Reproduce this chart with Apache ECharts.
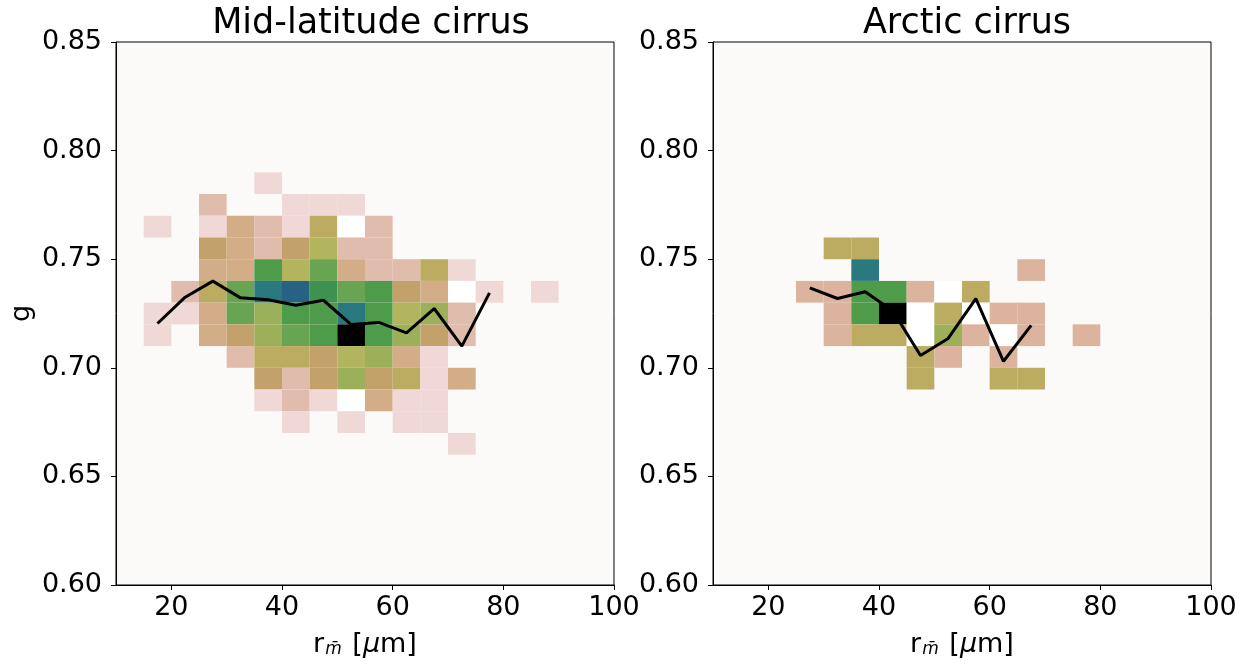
<!DOCTYPE html>
<html>
<head>
<meta charset="utf-8">
<script src="https://cdn.jsdelivr.net/npm/echarts@6/dist/echarts.min.js"></script>
<style>
  html,body{margin:0;padding:0;background:#fff;}
  #main{width:1251px;height:667px;}
</style>
</head>
<body>
<div id="main"></div>
<script>
  // bin size of the 2d histogram
  var binX=5;
  var binG=0.01;
  // colour per level (gist_earth_r like), 0 = empty white bin
  var cellColors=[
    "#ffffff","#efd8d5","#dfbcac","#d2ad88","#c2a26a","#bcac62","#b3b45e",
    "#9cb05a","#69a452","#4e9c4a","#3f914f","#2b7980","#266283","#000000","#dcb49d"
  ];
  // Mid-latitude: [left edge r, bottom edge g, level]
  var midCells=[
    [35,0.78,1],
    [25,0.77,2],[40,0.77,1],[45,0.77,1],[50,0.77,1],
    [15,0.76,1],[25,0.76,1],[30,0.76,3],[35,0.76,2],[40,0.76,1],[45,0.76,5],[50,0.76,0],[55,0.76,2],
    [25,0.75,4],[30,0.75,3],[35,0.75,2],[40,0.75,4],[45,0.75,6],[50,0.75,2],[55,0.75,2],
    [25,0.74,3],[30,0.74,3],[35,0.74,9],[40,0.74,6],[45,0.74,8],[50,0.74,3],[55,0.74,2],[60,0.74,2],[65,0.74,5],[70,0.74,1],
    [20,0.73,2],[25,0.73,5],[30,0.73,8],[35,0.73,11],[40,0.73,12],[45,0.73,10],[50,0.73,8],[55,0.73,9],[60,0.73,4],[65,0.73,3],[70,0.73,0],[75,0.73,1],[85,0.73,1],
    [15,0.72,1],[20,0.72,1],[25,0.72,3],[30,0.72,8],[35,0.72,7],[40,0.72,9],[45,0.72,9],[50,0.72,11],[55,0.72,9],[60,0.72,6],[65,0.72,7],[70,0.72,2],
    [15,0.71,1],[25,0.71,3],[30,0.71,4],[35,0.71,7],[40,0.71,8],[45,0.71,9],[50,0.71,13],[55,0.71,9],[60,0.71,7],[65,0.71,4],[70,0.71,2],
    [30,0.70,2],[35,0.70,5],[40,0.70,5],[45,0.70,4],[50,0.70,6],[55,0.70,7],[60,0.70,3],[65,0.70,1],
    [35,0.69,4],[40,0.69,2],[45,0.69,4],[50,0.69,7],[55,0.69,4],[60,0.69,5],[65,0.69,1],[70,0.69,3],
    [35,0.68,1],[40,0.68,2],[45,0.68,1],[50,0.68,0],[55,0.68,3],[60,0.68,1],[65,0.68,1],
    [40,0.67,1],[50,0.67,1],[60,0.67,1],[65,0.67,1],
    [70,0.66,1]
  ];
  // Arctic
  var arcCells=[
    [30,0.75,5],[35,0.75,5],
    [35,0.74,11],[65,0.74,14],
    [25,0.73,14],[30,0.73,14],[35,0.73,9],[40,0.73,9],[45,0.73,14],[50,0.73,0],[55,0.73,5],
    [30,0.72,14],[35,0.72,9],[40,0.72,13],[45,0.72,0],[50,0.72,5],[55,0.72,0],[60,0.72,14],[65,0.72,14],
    [30,0.71,14],[35,0.71,5],[40,0.71,5],[45,0.71,0],[50,0.71,7],[55,0.71,14],[60,0.71,0],[65,0.71,14],[75,0.71,14],
    [45,0.70,5],[50,0.70,14],[60,0.70,14],
    [45,0.69,5],[60,0.69,5],[65,0.69,5]
  ];
  // mean g per r bin
  var midLineX=[17.5,22.5,27.5,32.5,37.5,42.5,47.5,52.5,57.5,62.5,67.5,72.5,77.5];
  var midLineG=[0.7204,0.7325,0.7399,0.7322,0.7313,0.7288,0.7311,0.7199,0.7209,0.7161,0.7273,0.7100,0.7345];
  var arcLineX=[27.5,32.5,37.5,42.5,47.5,52.5,57.5,62.5,67.5];
  var arcLineG=[0.7368,0.7319,0.7350,0.7262,0.7057,0.7135,0.7318,0.7030,0.7195];
  var xTicks=[20,40,60,80,100];

  var font="DejaVu Sans";

  var cellItem=function(params,api){
    var x0=api.value(0),y0=api.value(1);
    var a=api.coord([x0,y0+binG]);
    var b=api.coord([x0+binX,y0]);
    return {
      type:"rect",
      shape:{x:a[0],y:a[1],width:b[0]-a[0],height:b[1]-a[1]},
      style:{fill:cellColors[api.value(2)]}
    };
  };
  var zipLine=function(xs,ys){
    var out=[];
    xs.forEach(function(x,i){out.push([x,ys[i]]);});
    return out;
  };
  var makeX=function(idx){
    return {
      type:"value",gridIndex:idx,min:10,max:100,
      name:"{r|r}{s|m\u0304} [{mu|\u03bc}m]",
      nameLocation:"middle",nameGap:46,
      nameTextStyle:{
        fontFamily:font,fontSize:27,color:"#000",
        rich:{
          r:{fontFamily:font,fontSize:27,color:"#000"},
          s:{fontFamily:font,fontSize:17,fontStyle:"italic",color:"#000",verticalAlign:"bottom",lineHeight:18,padding:[0,2,0,1]},
          mu:{fontFamily:font,fontSize:27,fontStyle:"italic",color:"#000"}
        }
      },
      axisLine:{show:true,onZero:false,lineStyle:{color:"#000",width:1}},
      axisTick:{show:true,length:5,customValues:xTicks,lineStyle:{color:"#000",width:1}},
      axisLabel:{customValues:xTicks,margin:9,fontFamily:font,fontSize:27,color:"#000"},
      splitLine:{show:false}
    };
  };
  var makeY=function(idx,withName){
    return {
      type:"value",gridIndex:idx,min:0.6,max:0.85,interval:0.05,
      name:withName?"g":"",
      nameLocation:"middle",nameGap:81,nameRotate:90,
      nameTextStyle:{fontFamily:font,fontSize:27,color:"#000"},
      axisLine:{show:true,onZero:false,lineStyle:{color:"#000",width:1}},
      axisTick:{show:true,length:5,lineStyle:{color:"#000",width:1}},
      axisLabel:{margin:14,fontFamily:font,fontSize:27,color:"#000",
        formatter:function(v){return v.toFixed(2);}},
      splitLine:{show:false}
    };
  };

  var chart=echarts.init(document.getElementById("main"));
  chart.setOption({
    backgroundColor:"#ffffff",
    animation:false,
    title:[
      {text:"Mid-latitude cirrus",left:366,top:1,textAlign:"center",
        textStyle:{fontFamily:font,fontSize:35,fontWeight:"normal",color:"#000"}},
      {text:"Arctic cirrus",left:962,top:1,textAlign:"center",
        textStyle:{fontFamily:font,fontSize:35,fontWeight:"normal",color:"#000"}}
    ],
    grid:[
      {left:116,top:42,width:498,height:543,show:true,backgroundColor:"#fcfaf9",borderColor:"#000",borderWidth:1},
      {left:713,top:42,width:498,height:543,show:true,backgroundColor:"#fcfaf9",borderColor:"#000",borderWidth:1}
    ],
    xAxis:[makeX(0),makeX(1)],
    yAxis:[makeY(0,true),makeY(1,false)],
    series:[
      {type:"custom",xAxisIndex:0,yAxisIndex:0,renderItem:cellItem,encode:{x:0,y:1},data:midCells,z:2},
      {type:"custom",xAxisIndex:1,yAxisIndex:1,renderItem:cellItem,encode:{x:0,y:1},data:arcCells,z:2},
      {type:"line",xAxisIndex:0,yAxisIndex:0,data:zipLine(midLineX,midLineG),symbol:"none",
        lineStyle:{color:"#000",width:3},z:3},
      {type:"line",xAxisIndex:1,yAxisIndex:1,data:zipLine(arcLineX,arcLineG),symbol:"none",
        lineStyle:{color:"#000",width:3},z:3}
    ]
  });
</script>
</body>
</html>
